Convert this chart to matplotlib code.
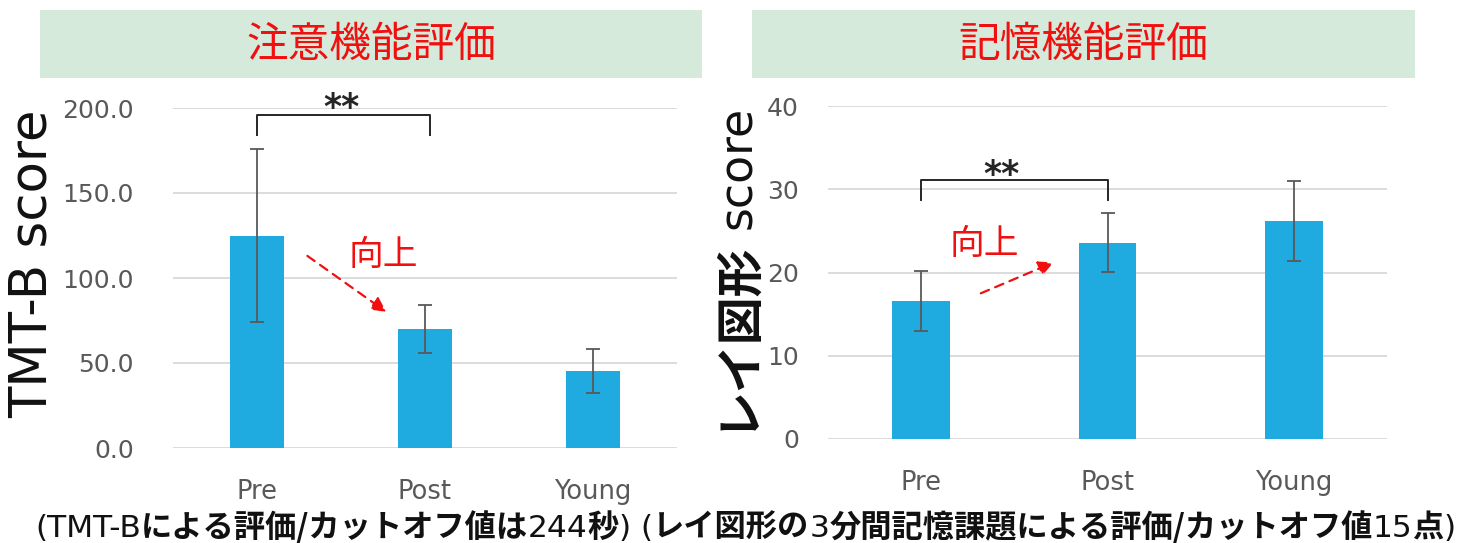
import matplotlib
matplotlib.use("Agg")
import matplotlib.pyplot as plt
from matplotlib.patches import Rectangle

plt.rcParams['font.family'] = ['DejaVu Sans', 'Noto Sans CJK JP']

# ---- data ----
groups = ["Pre", "Post", "Young"]
tmt_mean = [125.0, 70.0, 45.5]
tmt_sd = [51.0, 14.0, 13.0]
rey_mean = [16.6, 23.6, 26.2]
rey_sd = [3.6, 3.5, 4.8]
tmt_ticks = [0, 50, 100, 150, 200]
rey_ticks = [0, 10, 20, 30, 40]
titles = ["注意機能評価", "記憶機能評価"]
improve_label = "向上"
sig_label = "**"

BAR = "#1fabe0"
ERR = "#595959"
GRID = "#d9d9d9"
TICK = "#595959"
RED = "#f01010"
HEAD_BG = "#d5eadb"

W, H = 1457, 543
fig = plt.figure(figsize=(W / 100, H / 100), dpi=100)


def px_box(x0, y0, x1, y1):
    return [x0 / W, 1 - y1 / H, (x1 - x0) / W, (y1 - y0) / H]


ax1 = fig.add_axes(px_box(173, 108, 677, 448))
ax2 = fig.add_axes(px_box(828, 106, 1387, 439))

# header bands
for (x0, x1), title in zip([(40, 702), (752, 1415)], titles):
    fig.patches.append(Rectangle((x0 / W, 1 - 78 / H), (x1 - x0) / W, 68 / H,
                                 transform=fig.transFigure, facecolor=HEAD_BG,
                                 edgecolor="none", zorder=0))
    fig.text((x0 + x1) / 2 / W, 1 - 45 / H, title, color=RED, fontsize=30,
             ha="center", va="center", family=["Noto Sans CJK JP"])


def style(ax, ticks, fmt, width, means, sds, ylim):
    x = range(len(groups))
    ax.bar(x, means, width=width, color=BAR, zorder=2)
    ax.errorbar(x, means, yerr=sds, fmt="none", ecolor=ERR, elinewidth=1.3,
                capsize=5, capthick=1.3, zorder=3)
    ax.set_xlim(-0.5, len(groups) - 0.5)
    ax.set_ylim(*ylim)
    ax.set_yticks(ticks)
    ax.set_yticklabels([fmt.format(t) for t in ticks])
    ax.set_xticks(list(x))
    ax.set_xticklabels(groups)
    for s in ax.spines.values():
        s.set_visible(False)
    ax.yaxis.grid(True, color=GRID, lw=1.3, zorder=0)
    ax.set_axisbelow(True)
    ax.tick_params(axis="both", length=0, colors=TICK)
    ax.tick_params(axis="x", labelsize=18.5, pad=22)
    ax.tick_params(axis="y", labelsize=18)


style(ax1, tmt_ticks, "{:.1f}", 0.32, tmt_mean, tmt_sd, (0, 200))
ax1.tick_params(axis="y", pad=28)
style(ax2, rey_ticks, "{:d}", 0.31, rey_mean, rey_sd, (0, 40))
ax2.tick_params(axis="y", pad=21)


def bracket(ax, x0, x1, ytop, ybot, tx, lift):
    ax.plot([x0, x0, x1, x1], [ybot, ytop, ytop, ybot], color="#262626",
            lw=1.4, clip_on=False, zorder=4)
    ax.annotate(sig_label, xy=(tx, ytop), xytext=(0, lift),
                textcoords="offset pixels", ha="center", va="top",
                fontsize=25, fontweight="bold", color="#262626",
                annotation_clip=False)


bracket(ax1, 0.0, 1.03, 196, 184, 0.5, 24)
bracket(ax2, 0.0, 1.0, 31.1, 28.7, 0.43, 22)


def improve(ax, txy, start, tip):
    ax.text(*txy, improve_label, color=RED, fontsize=25, ha="center",
            va="center", family=["Noto Sans CJK JP"])
    ax.annotate("", xy=tip, xytext=start,
                arrowprops=dict(arrowstyle="-|>", color=RED, lw=1.6,
                                ls=(0, (4, 3)), mutation_scale=22,
                                shrinkA=0, shrinkB=0))


improve(ax1, (0.75, 113.5), (0.30, 113), (0.77, 80))
improve(ax2, (0.34, 23.4), (0.32, 17.5), (0.71, 21.2))

# axis titles
fig.text(33 / W, 1 - 264 / H, "TMT-B score", rotation=90, fontsize=37,
         ha="center", va="center", color="#111111")
fig.text(734 / W, 1 - 430 / H, "レイ図形", rotation=90, fontsize=34.5,
         fontweight="bold", ha="center", va="bottom", color="#111111",
         family=["Noto Sans CJK JP"])
fig.text(739 / W, 1 - 229 / H, "score", rotation=90, fontsize=33,
         ha="center", va="bottom", color="#111111")

# caption line with mixed weights
pieces = [("(TMT-B", "normal"), ("による評価/カットオフ値は", "bold"),
          ("244", "normal"), ("秒", "bold"), (") (", "normal"),
          ("レイ図形の", "bold"), ("3", "normal"),
          ("分間記憶課題による評価/カットオフ値", "bold"), ("15", "normal"),
          ("点", "bold"), (")", "normal")]

renderer = fig.canvas.get_renderer()


def lay_caption(size):
    arts = []
    x = 35.0
    for txt, wt in pieces:
        fam = ["DejaVu Sans", "Noto Sans CJK JP"] if wt == "normal" else ["Noto Sans CJK JP"]
        t = fig.text(x / W, 1 - 537 / H, txt, fontsize=size, fontweight=wt,
                     ha="left", va="baseline", color="#111111", family=fam)
        bb = t.get_window_extent(renderer)
        x += bb.width
        arts.append(t)
    return arts, x


arts, xend = lay_caption(22)
target = 1455.0
size = 22 * (target - 35) / (xend - 35)
for a in arts:
    a.remove()
lay_caption(size)

fig.savefig("out.png", dpi=100)
